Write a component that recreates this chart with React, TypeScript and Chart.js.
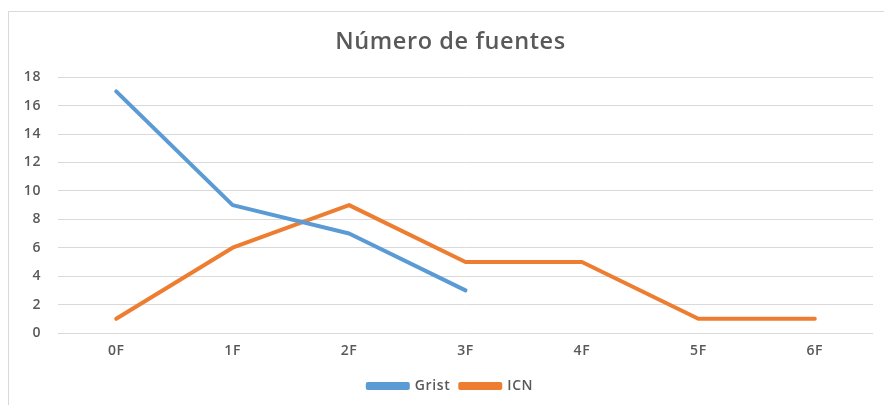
import React, { useEffect, useRef } from "react";
import { Chart, registerables } from "chart.js";

Chart.register(...registerables);

const categories = ["0F", "1F", "2F", "3F", "4F", "5F", "6F"];
const gristValues: (number | null)[] = [17, 9, 7, 3, null, null, null];
const icnValues: number[] = [1, 6, 9, 5, 5, 1, 1];
const titleText = "Número de fuentes";

const spacingPlugin = {
  id: "spacing",
  beforeDraw(chart: any) {
    (chart.ctx as any).letterSpacing = "0.6px";
  },
  beforeUpdate(chart: any) {
    (chart.ctx as any).letterSpacing = "0.6px";
  },
};

export default function App() {
  const ref = useRef<HTMLCanvasElement | null>(null);
  useEffect(() => {
    if (!ref.current) return;
    const font = "'Open Sans', 'Noto Sans', sans-serif";
    const chart = new Chart(ref.current, {
      type: "line",
      plugins: [spacingPlugin],
      data: {
        labels: categories,
        datasets: [
          {
            label: "Grist",
            data: gristValues,
            borderColor: "#5B9BD5",
            backgroundColor: "#5B9BD5",
            borderWidth: 4,
            pointRadius: 0,
            borderCapStyle: "round",
            borderJoinStyle: "round",
            spanGaps: false,
          },
          {
            label: "ICN",
            data: icnValues,
            borderColor: "#ED7D31",
            backgroundColor: "#ED7D31",
            borderWidth: 4,
            pointRadius: 0,
            borderCapStyle: "round",
            borderJoinStyle: "round",
          },
        ],
      },
      options: {
        animation: false,
        responsive: false,
        layout: { padding: { left: 0, right: 0, top: 0, bottom: 3 } },
        plugins: {
          title: {
            display: true,
            text: titleText,
            color: "#595959",
            font: { family: font, size: 23.5, weight: "600" },
            padding: { top: 16, bottom: 21 },
          },
          legend: {
            position: "bottom",
            labels: {
              color: "#595959",
              font: { family: font, size: 14, weight: "600" },
              boxWidth: 40,
              boxHeight: 4,
              padding: 10,
            },
          },
          tooltip: { enabled: false },
        },
        scales: {
          x: {
            offset: true,
            grid: { display: false, drawTicks: false },
            border: { display: false },
            ticks: {
              color: "#595959",
              font: { family: font, size: 14, weight: "600" },
              padding: 10,
              maxRotation: 0,
            },
            afterFit: (s: any) => {
              s.height = 36;
            },
          },
          y: {
            min: 0,
            max: 18,
            ticks: {
              stepSize: 2,
              color: "#595959",
              font: { family: font, size: 14, weight: "600" },
              padding: 17,
            },
            grid: { color: "#d9d9d9", lineWidth: 1, drawTicks: false },
            border: { display: false },
            afterFit: (s: any) => {
              s.width = 49;
            },
          },
          yRight: {
            position: "right",
            min: 0,
            max: 18,
            grid: { display: false, drawTicks: false },
            border: { display: false },
            ticks: { display: false },
            afterFit: (s: any) => {
              s.width = 19;
            },
          },
        },
      },
    });
    return () => chart.destroy();
  }, []);
  return (
    <div style={{ paddingTop: 3, width: 884, overflow: "hidden" }}>
      <div
        style={{
          borderLeft: "1px solid #d9d9d9",
          borderTop: "1px solid #d9d9d9",
          width: 884,
          height: 394,
          boxSizing: "border-box",
        }}
      >
        <canvas ref={ref} width={883} height={394} style={{ display: "block" }} />
      </div>
    </div>
  );
}
